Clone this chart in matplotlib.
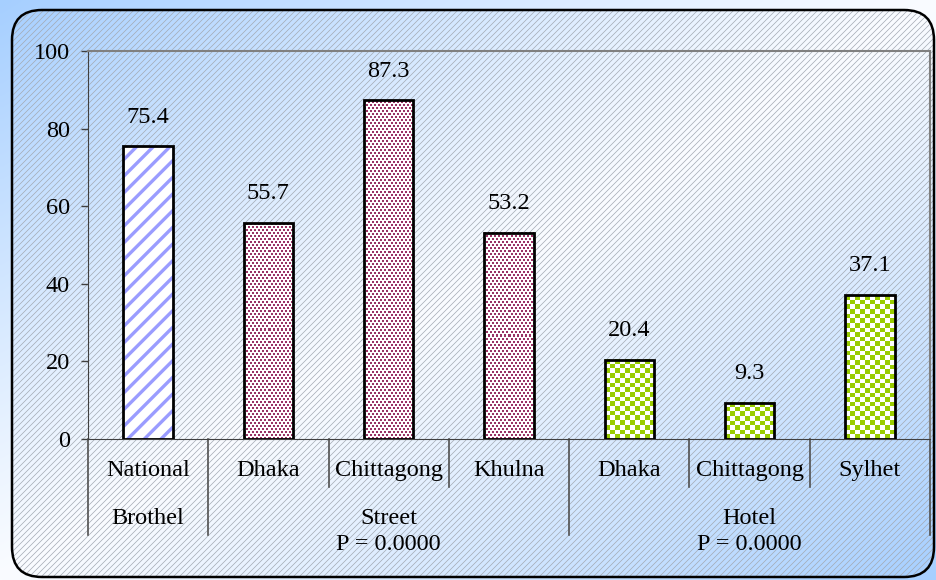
import numpy as np
import matplotlib
matplotlib.use("Agg")
import matplotlib.pyplot as plt
from matplotlib.patches import FancyBboxPatch
from matplotlib.collections import LineCollection
from matplotlib.lines import Line2D

plt.rcParams['font.family'] = ['Liberation Serif', 'DejaVu Serif']
plt.rcParams['hatch.linewidth'] = 2.4

# data
categories = ["National", "Dhaka", "Chittagong", "Khulna", "Dhaka", "Chittagong", "Sylhet"]
values = [75.4, 55.7, 87.3, 53.2, 20.4, 9.3, 37.1]
groups = ["Brothel", "Street", "Street", "Street", "Hotel", "Hotel", "Hotel"]
group_names = ["Brothel", "Street", "Hotel"]
group_pvalues = ["", "P = 0.0000", "P = 0.0000"]
yticks = [0, 20, 40, 60, 80, 100]

FS = 17.5
W, H = 937, 580
fig = plt.figure(figsize=(W / 100, H / 100), dpi=100)

# --- background: diagonal blue/white gradient, hatch lines, rounded frame
bg = fig.add_axes([0, 0, 1, 1], zorder=-1)
bg.set_xlim(0, W)
bg.set_ylim(H, 0)
bg.axis("off")
gx, gy = np.meshgrid(np.linspace(0, 1, 200), np.linspace(0, 1, 200))
t = np.abs((gx + gy) / 2 - 0.5) * 2
t = np.clip(t, 0, 1) ** 1.1
blue = np.array([166, 207, 255]) / 255
white = np.array([250, 252, 255]) / 255
grad = white[None, None, :] * (1 - t[..., None]) + blue[None, None, :] * t[..., None]
bg.imshow(grad, extent=(0, W, H, 0), aspect="auto", interpolation="bilinear")

frame = FancyBboxPatch((12, 10), 922, 567, boxstyle="round,pad=0,rounding_size=30",
                       facecolor="none", edgecolor="black", lw=1.8, zorder=3)
bg.add_patch(frame)
segs = [[(c, H), (c + H, 0)] for c in range(-H, W, 6)]
lc = LineCollection(segs, colors="#a3aab3", linewidths=0.5, zorder=2)
bg.add_collection(lc)
lc.set_clip_path(frame)

# --- main plot
ax_left, ax_bottom = 88 / W, (H - 439) / H
ax_w, ax_h = 842 / W, 388 / H
ax = fig.add_axes([ax_left, ax_bottom, ax_w, ax_h])
ax.patch.set_alpha(0)

x = np.arange(len(categories))
bar_w = 0.41
px_x = 842 / len(categories)      # pixels per category unit
px_y = 388 / 100                  # pixels per value unit


def texture_bar(xc, h, color, cell_px, dots=False):
    ncols = max(1, int(round(bar_w * px_x / cell_px)))
    nrows = max(1, int(round(h * px_y / cell_px)))
    r = np.arange(nrows)[:, None]
    c = np.arange(ncols)[None, :]
    if dots:
        # 2x2 px dots, staggered rows
        on = ((r % 6) < 2) & ((c % 4) < 2) | ((r % 6 >= 3) & (r % 6 < 5) & (c % 4 >= 2))
    else:
        on = (r + c) % 2 == 0
    col = np.array(matplotlib.colors.to_rgb(color))
    img = np.where(on[..., None], col, np.ones(3))
    ax.imshow(img, extent=(xc - bar_w / 2, xc + bar_w / 2, 0, h), origin="lower",
              aspect="auto", interpolation="nearest", zorder=2)


for xi, v, g in zip(x, values, groups):
    if g == "Brothel":
        ax.bar(xi, v, bar_w, facecolor="white", edgecolor="#9a9cff", hatch="//",
               lw=0, zorder=2)
    elif g == "Street":
        texture_bar(xi, v, "#993366", 1.0, dots=True)
    else:
        texture_bar(xi, v, "#99cc00", 4.7)
ax.bar(x, values, bar_w, fill=False, edgecolor="black", lw=2, zorder=3)

for xi, v in zip(x, values):
    ax.annotate(f"{v:.1f}", (xi, v), xytext=(0, 21), textcoords="offset points",
                ha="center", va="center", fontsize=FS)

ax.set_xlim(-0.5, len(categories) - 0.5)
ax.set_ylim(0, 100)
ax.set_yticks(yticks)
ax.tick_params(axis="y", direction="out", length=5, width=1, color="#404040",
               labelsize=FS, pad=8)
ax.set_xticks([])
for s in ["top", "right"]:
    ax.spines[s].set_color("#808080")
    ax.spines[s].set_linewidth(1.5)
ax.spines["left"].set_color("#404040")
ax.spines["bottom"].set_color("#404040")

# --- two-level category axis below the plot
tr = ax.get_xaxis_transform()
row1, row2, row3 = -0.08, -0.206, -0.273
inner_end, group_end = -0.124, -0.247
for xi, lab in zip(x, categories):
    ax.text(xi, row1, lab, transform=tr, ha="center", va="center", fontsize=FS)

bounds = [-0.5]
for i in range(1, len(groups)):
    if groups[i] != groups[i - 1]:
        bounds.append(i - 0.5)
bounds.append(len(groups) - 0.5)
for i in range(len(categories) + 1):
    xb = i - 0.5
    yend = group_end if xb in bounds else inner_end
    ax.add_line(Line2D([xb, xb], [0, yend], transform=tr, color="#505050",
                       lw=1.2, clip_on=False))

for k, (name, pv) in enumerate(zip(group_names, group_pvalues)):
    xc = (bounds[k] + bounds[k + 1]) / 2
    ax.text(xc, row2, name, transform=tr, ha="center", va="center", fontsize=FS)
    if pv:
        ax.text(xc, row3, pv, transform=tr, ha="center", va="center", fontsize=FS)

fig.savefig("out.png", dpi=100)
